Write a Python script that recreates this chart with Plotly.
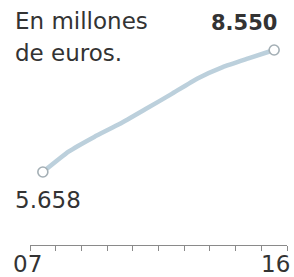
import plotly.graph_objects as go

years = [2007, 2008, 2009, 2010, 2011, 2012, 2013, 2014, 2015, 2016]
values = [5658, 6140, 6490, 6800, 7150, 7505, 7870, 8145, 8350, 8550]
unit_lines = ["En millones", "de euros."]
first_label = "07"
last_label = "16"
tick_bounds = [2006.5 + i for i in range(11)]


def es(v):
    return f"{v:,.0f}".replace(",", ".")


FONT = "DejaVu Sans"
TXT = "#333333"

fig = go.Figure()
fig.add_trace(go.Scatter(
    x=years, y=values, mode="lines",
    line=dict(color="#bcd0dc", width=4.5, shape="spline", smoothing=0.4),
    hoverinfo="skip",
))
fig.add_trace(go.Scatter(
    x=[years[0], years[-1]], y=[values[0], values[-1]], mode="markers",
    marker=dict(size=10, color="white", line=dict(color="#a4afb5", width=1.6)),
    hoverinfo="skip",
))

W, H = 294, 277
fig.update_layout(
    width=W, height=H,
    margin=dict(l=0, r=0, t=0, b=0),
    paper_bgcolor="white", plot_bgcolor="white",
    showlegend=False,
    xaxis=dict(
        domain=[30 / W, 287 / W],
        range=[2006.5, 2016.5],
        showgrid=False, zeroline=False,
        showline=True, linecolor="#8a8a8a", linewidth=1,
        ticks="outside", ticklen=5, tickcolor="#8a8a8a", tickwidth=1,
        tickvals=tick_bounds, ticktext=[""] * len(tick_bounds),
        fixedrange=True,
    ),
    yaxis=dict(
        domain=[32 / H, 1],
        range=[3927.5, 9735],
        visible=False, fixedrange=True,
    ),
)

anns = [
    dict(text=unit_lines[0], x=13 / W, y=1 - 21 / H, xanchor="left", yanchor="middle",
         font=dict(size=23, color=TXT, family=FONT)),
    dict(text=unit_lines[1], x=13 / W, y=1 - 53 / H, xanchor="left", yanchor="middle",
         font=dict(size=23, color=TXT, family=FONT)),
    dict(text="<b>" + es(values[-1]) + "</b>", x=279 / W, y=1 - 23 / H,
         xanchor="right", yanchor="middle",
         font=dict(size=21, color=TXT, family=FONT)),
    dict(text=es(values[0]), x=13 / W, y=1 - 200 / H, xanchor="left", yanchor="middle",
         font=dict(size=23, color=TXT, family=FONT)),
    dict(text=first_label, x=11 / W, y=1 - 264 / H, xanchor="left", yanchor="middle",
         font=dict(size=23, color=TXT, family=FONT)),
    dict(text=last_label, x=292 / W, y=1 - 264 / H, xanchor="right", yanchor="middle",
         font=dict(size=23, color=TXT, family=FONT)),
]
for a in anns:
    a.update(xref="paper", yref="paper", showarrow=False)
fig.update_layout(annotations=anns)

fig.write_html(
    "out.html",
    config={"displayModeBar": False, "staticPlot": True},
    post_script="document.body.style.margin='0';document.body.style.overflow='hidden';",
)
